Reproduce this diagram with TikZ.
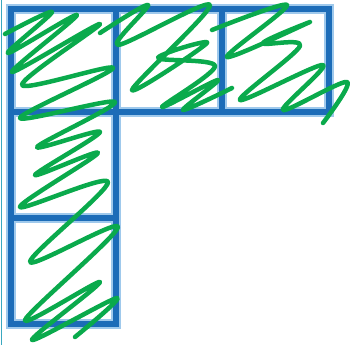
\documentclass[tikz,border=0pt]{standalone}
\definecolor{cellblue}{HTML}{1C6CB8}
\definecolor{halo}{HTML}{9FC9EC}
\definecolor{scrib}{HTML}{0AAA4C}
\definecolor{edge}{HTML}{3AA8C0}
\tikzset{
  cellhalo/.style={draw=halo, line width=10pt},
  cellline/.style={draw=cellblue, line width=6.5pt},
  scribble/.style={draw=scrib, line width=4.5pt, line cap=round, line join=round}
}
\begin{document}
\begin{tikzpicture}[x=1pt,y=-1pt]
\useasboundingbox (0,0) rectangle (353,345);
\fill[white] (0,0) rectangle (353,345);
\draw[edge, line width=1pt] (1,0) -- (1,345);
% cells
\foreach \a/\b/\c/\d in {11/9/116/112, 116/9/222/112, 222/9/329/112, 11/112/116/218, 11/218/116/324}{
  \draw[cellhalo] (\a,\b) rectangle (\c,\d);
}
\foreach \a/\b/\c/\d in {11/9/116/112, 116/9/222/112, 222/9/329/112, 11/112/116/218, 11/218/116/324}{
  \draw[cellline] (\a,\b) rectangle (\c,\d);
}
% scribbles
\draw[scribble] plot[smooth, tension=0.55] coordinates {(5,34) (52,12) (8,53) (77,15) (12,72) (100,24) (22,85) (113,68) (20,118) (115,102) (37,147) (100,132) (35,175) (98,153) (20,207) (108,182) (30,262) (118,227) (25,320) (100,282) (32,340) (117,298) (75,337)};
\draw[scribble] plot[smooth, tension=0.55] coordinates {(100,33) (148,5) (118,45) (210,5) (132,90) (207,43) (158,58) (215,66) (162,107) (218,80) (183,110) (232,88)};
\draw[scribble] plot[smooth, tension=0.55] coordinates {(212,30) (287,5) (227,57) (310,22) (263,43) (300,46) (240,100) (323,65) (283,110) (347,82) (323,123)};
\end{tikzpicture}
\end{document}
